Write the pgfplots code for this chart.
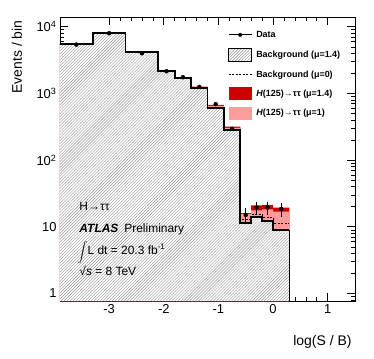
\documentclass[border=0pt]{standalone}
\usepackage{fontspec}
\setmainfont{Liberation Sans}
\usepackage{pgfplots}
\usepackage{pgfplotstable}
\pgfplotsset{compat=1.18}
\usetikzlibrary{patterns}

\definecolor{sigdark}{RGB}{204,0,0}
\definecolor{siglight}{RGB}{255,155,155}
\definecolor{hatchgray}{RGB}{150,150,150}

% bin left edges; last row repeats the last bin at its right edge
\pgfplotstableread{
x     bkg   bkgz  sig   sigh
-4.0  5500  5500  5505  5508
-3.3  8050  8050  8060  8066
-2.7  4200  4200  4215  4225
-2.1  2150  2150  2175  2190
-1.8  1700  1700  1725  1740
-1.5  1220  1220  1250  1265
-1.2  600   615   650   675
-0.9  280   288   305   318
-0.6  11.5  12.9  15.5  16.0
-0.4  14.0  15.1  17.6  21.0
-0.2  12.3  14.0  18.3  21.3
0.0   8.9   11.2  16.8  19.3
0.3   8.9   11.2  16.8  19.3
}\hist

\pgfplotstableread{
x      y     e
-3.6   5400  73
-3.0   8000  89
-2.4   4000  63
-1.95  2150  46
-1.65  1750  42
-1.35  1250  35
-1.05  690   26
-0.75  295   17
-0.5   15.0  3.9
-0.3   19.5  4.4
-0.1   19.5  4.4
0.15   18.5  4.3
}\data

\begin{document}
\begin{tikzpicture}
\begin{axis}[
    width=295bp, height=284bp, scale only axis,
    xmin=-3.9, xmax=1.5,
    ymode=log, ymin=0.77, ymax=14000,
    log origin y=infty,
    xtick={-3,-2,-1,0,1}, xticklabels={-3,-2,-1,0,1},
    minor x tick num=4,
    ytick={1,10,100,1000,10000},
    yticklabels={1,10,10\textsuperscript{2},10\textsuperscript{3},10\textsuperscript{4}},
    minor ytick={0.8,0.9,2,3,4,5,6,7,8,9,20,30,40,50,60,70,80,90,200,300,400,500,600,700,800,900,2000,3000,4000,5000,6000,7000,8000,9000},
    tick align=inside,
    major tick length=8bp, minor tick length=4bp,
    every tick/.style={black, line width=0.6bp},
    axis line style={line width=0.8bp},
    tick label style={font=\fontsize{13}{15}\selectfont},
    xlabel={log(S / B)}, ylabel={Events / bin},
    label style={font=\fontsize{14}{16}\selectfont},
    xlabel style={at={(axis description cs:1,-0.144)}, anchor=east},
    ylabel style={at={(axis description cs:-0.146,1)}, anchor=east},
    legend style={at={(axis description cs:0.569,0.9606)}, anchor=north west,
        draw=none, fill=none, inner sep=0pt, row sep=6.3bp,
        nodes={inner sep=0pt},
        /tikz/every odd column/.append style={column sep=4bp},
        font=\fontsize{9}{10}\selectfont\bfseries},
    legend cell align=left,
]
\addlegendimage{legend image code/.code={
    \path[draw=none, fill=none] (0bp,-6.5bp) rectangle (23bp,6.5bp);
    \draw[black, line width=1bp] (0bp,0bp) -- (23bp,0bp);
    \fill[black, draw=none] (11.5bp,0bp) circle (2bp);}}
\addlegendentry{Data}
\addlegendimage{legend image code/.code={
    \fill[white, draw=none] (0bp,-6.5bp) rectangle (23bp,6.5bp);
    \fill[draw=none, pattern=north east lines, pattern color=hatchgray] (0bp,-6.5bp) rectangle (23bp,6.5bp);
    \draw[black, fill=none, solid, line width=1.2bp] (0bp,-6.5bp) rectangle (23bp,6.5bp);}}
\addlegendentry{Background (μ=1.4)}
\addlegendimage{legend image code/.code={
    \path[draw=none, fill=none] (0bp,-6.5bp) rectangle (23bp,6.5bp);
    \draw[black, line width=0.8bp, dash pattern=on 2bp off 1.5bp] (0bp,0bp) -- (23bp,0bp);}}
\addlegendentry{Background (μ=0)}
\addlegendimage{legend image code/.code={
    \fill[sigdark, draw=none] (0bp,-6.5bp) rectangle (23bp,6.5bp);}}
\addlegendentry{\textit{H}(125)→ττ (μ=1.4)}
\addlegendimage{legend image code/.code={
    \fill[siglight, draw=none] (0bp,-6.5bp) rectangle (23bp,6.5bp);}}
\addlegendentry{\textit{H}(125)→ττ (μ=1)}

% signal on top of background
\addplot[const plot, fill=sigdark, draw=none, forget plot] table[x=x, y=sigh] {\hist} \closedcycle;
\addplot[const plot, fill=siglight, draw=none, forget plot] table[x=x, y=sig] {\hist} \closedcycle;
% background, hatched
\addplot[const plot, fill=white, draw=none, forget plot,
    postaction={pattern=north east lines, pattern color=hatchgray}] table[x=x, y=bkg] {\hist} \closedcycle;
% background without signal
\addplot[const plot, black, line width=0.8bp, dash pattern=on 2bp off 1.5bp, forget plot] table[x=x, y=bkgz] {\hist};
% background outline
\addplot[const plot, black, line width=1.8bp, forget plot] table[x=x, y=bkg] {\hist};
\addplot[black, line width=1.8bp, forget plot] coordinates {(0.3,8.9) (0.3,0.5)};
% data
\addplot[only marks, mark=*, mark size=2bp, black, forget plot,
    error bars/.cd, y dir=both, y explicit,
    error bar style={line width=1.1bp}, error mark=none]
    table[x=x, y=y, y error=e] {\data};

\node[anchor=west, font=\fontsize{12}{14}\selectfont] at (axis description cs:0.054,0.332) {H→ττ};
\node[anchor=west, font=\fontsize{12}{14}\selectfont, inner ysep=0pt] at (axis description cs:0.054,0.2535) {\textbf{\textit{ATLAS}}\hspace{0.5em}Preliminary};
\node[anchor=west, font=\fontsize{12}{14}\selectfont, inner ysep=0pt] at (axis description cs:0.048,0.172) {{\fontsize{8.5}{9}\selectfont$\displaystyle\int$}L dt = 20.3 fb\textsuperscript{-1}};
\node[anchor=west, font=\fontsize{12}{14}\selectfont] at (axis description cs:0.054,0.107) {√\textit{s} = 8 TeV};
\end{axis}
\path ([xshift=-60bp,yshift=-58bp]current axis.south west) rectangle ([xshift=19bp,yshift=17bp]current axis.north east);
\end{tikzpicture}
\end{document}
